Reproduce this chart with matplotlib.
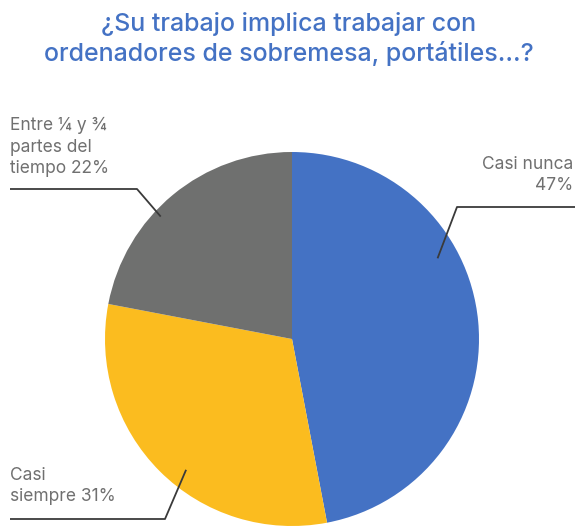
import numpy as np
import matplotlib.pyplot as plt

plt.rcParams['font.family'] = ['Inter', 'DejaVu Sans']

# data
labels = ['Casi nunca', 'Casi siempre', 'Entre ¼ y ¾ partes del tiempo']
values = [47, 31, 22]
colors = ['#4472C4', '#FBBC1F', '#6F706F']
label_text = ['Casi nunca\n47%', 'Casi\nsiempre 31%', 'Entre ¼ y ¾\npartes del\ntiempo 22%']
title = '¿Su trabajo implica trabajar con\nordenadores de sobremesa, portátiles...?'

W, H = 577, 527
fig = plt.figure(figsize=(W / 100, H / 100), dpi=100)
ax = fig.add_axes([0, 0, 1, 1])

cx, cy, r = 292, H - 339, 187
ax.pie(values, colors=colors, startangle=90, counterclock=False,
       center=(cx, cy), radius=r, frame=True,
       wedgeprops=dict(linewidth=0))
ax.set_xlim(0, W)
ax.set_ylim(0, H)
ax.set_aspect('equal')
ax.axis('off')

ax.text(W / 2, H - 39, title, ha='center', va='center',
        fontsize=18, color='#4472C4', linespacing=1.25, fontweight='medium')


def leader(angle, frac, elbow, end, ax=ax):
    a = np.deg2rad(angle)
    px = cx + frac * r * np.cos(a)
    py = cy + frac * r * np.sin(a)
    ax.plot([px, elbow[0], end], [py, elbow[1], elbow[1]],
            color='#3a3a3a', lw=1.3, solid_capstyle='butt')


txt = dict(fontsize=12.5, color='#707070', linespacing=1.35)

# Casi nunca
leader(29, 0.89, (457, H - 207), W - 2)
ax.text(573, H - 175, label_text[0], ha='right', va='center', **txt)

# Casi siempre
leader(-129, 0.9, (165, H - 519), 10)
ax.text(10, H - 486, label_text[1], ha='left', va='center', **txt)

# Entre 1/4 y 3/4
leader(137, 0.96, (137, H - 189), 10)
ax.text(10, H - 147, label_text[2], ha='left', va='center', **txt)

fig.savefig('out.png', dpi=100)
